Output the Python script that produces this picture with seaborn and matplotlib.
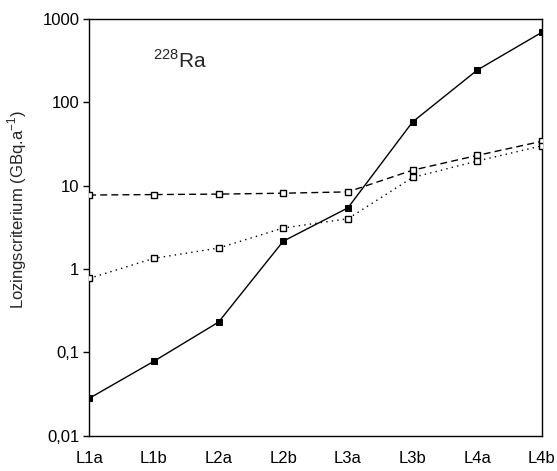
import matplotlib
matplotlib.use("Agg")
import matplotlib.pyplot as plt
import seaborn as sns
import pandas as pd
import numpy as np

categories = ["L1a", "L1b", "L2a", "L2b", "L3a", "L3b", "L4a", "L4b"]
solid_values = [0.028, 0.078, 0.23, 2.15, 5.4, 58, 243, 690]
dashed_values = [7.7, 7.8, 7.9, 8.1, 8.4, 15.3, 23, 34]
dotted_values = [0.77, 1.34, 1.78, 3.1, 4.0, 12.5, 19.7, 30]
ytick_values = [0.01, 0.1, 1, 10, 100, 1000]
ytick_labels = ["0,01", "0,1", "1", "10", "100", "1000"]

sns.set_theme(style="white")
plt.rcParams['font.family'] = ['Liberation Sans', 'DejaVu Sans']

df = pd.DataFrame({
    "x": np.arange(len(categories)),
    "solid": solid_values,
    "dashed": dashed_values,
    "dotted": dotted_values,
})

fig = plt.figure(figsize=(5.57, 4.71), dpi=100)
ax = fig.add_axes([0.16, 0.075, 0.813, 0.885])

sns.lineplot(data=df, x="x", y="dashed", ax=ax, color="black", linewidth=1.0,
             linestyle=(0, (5, 3)), marker="s", markersize=5,
             markerfacecolor="white", markeredgecolor="black", markeredgewidth=1.0,
             sort=False, zorder=3)
sns.lineplot(data=df, x="x", y="dotted", ax=ax, color="black", linewidth=1.0,
             linestyle=(0, (1, 3)), marker="s", markersize=5,
             markerfacecolor="white", markeredgecolor="black", markeredgewidth=1.0,
             sort=False, zorder=3)
sns.lineplot(data=df, x="x", y="solid", ax=ax, color="black", linewidth=1.0,
             linestyle="-", marker="s", markersize=5,
             markerfacecolor="black", markeredgecolor="black",
             sort=False, zorder=4)

ax.set_yscale("log")
ax.set_ylim(0.01, 1000)
ax.set_xlim(0, len(categories) - 1)
ax.set_yticks(ytick_values)
ax.set_yticklabels(ytick_labels)
ax.yaxis.set_minor_locator(matplotlib.ticker.NullLocator())
ax.set_xticks(df["x"])
ax.set_xticklabels(categories)
ax.tick_params(axis="y", which="major", direction="out", length=4, width=1,
               left=True, labelsize=12, pad=3, colors="black")
ax.tick_params(axis="x", which="major", length=0, labelsize=12, pad=11,
               colors="black")
for s in ax.spines.values():
    s.set_color("black")
    s.set_linewidth(1.0)
    s.set_visible(True)
ax.set_xlabel("")
ax.set_ylabel("Lozingscriterium (GBq.a$^{\\mathregular{-1}}$)", fontsize=12)
ax.yaxis.set_label_coords(-0.132, 0.543)
ax.text(0.141, 0.90, "$^{\\mathregular{228}}$Ra", transform=ax.transAxes,
        fontsize=15, va="center", ha="left")
ax.grid(False)

fig.savefig("out.png", dpi=100)
